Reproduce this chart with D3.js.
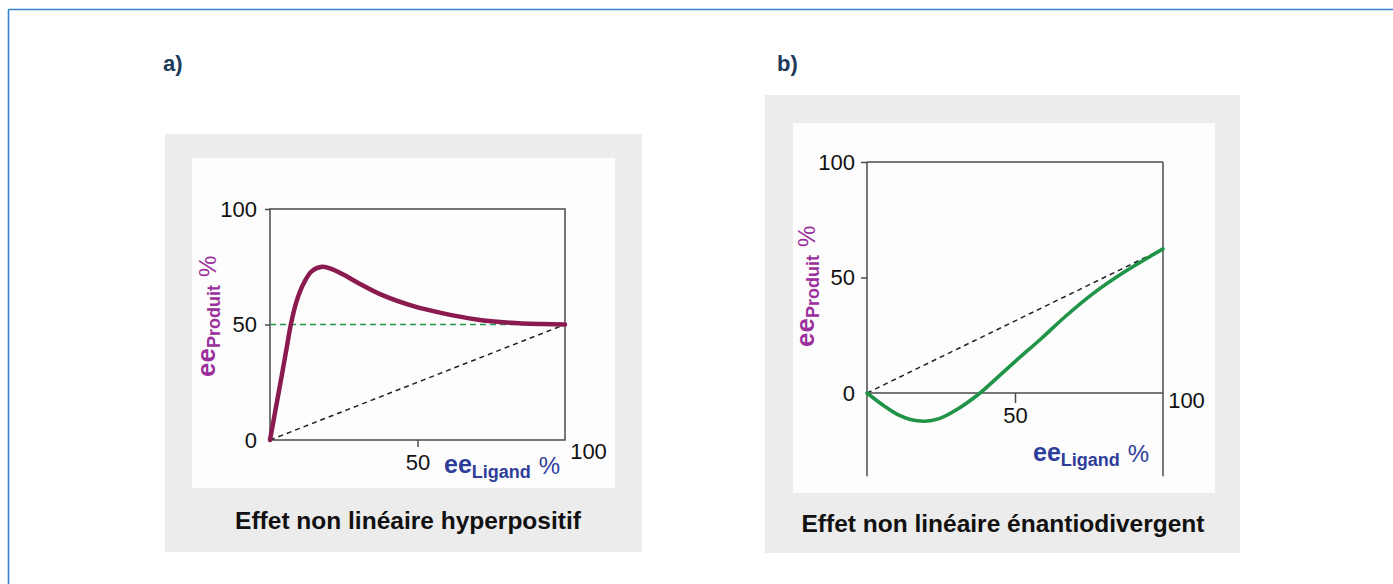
<!DOCTYPE html>
<html>
<head>
<meta charset="utf-8">
<script src="https://cdn.jsdelivr.net/npm/d3@7"></script>
<style>
  body { margin: 0; background: #fff; }
  text { font-family: "Liberation Sans", Arial, Helvetica, sans-serif; }
</style>
</head>
<body>
<svg width="1393" height="584"></svg>
<script>
// values (ee in %)
const yTicks = [0, 50, 100];
const xTicks = [50, 100];

// a) hyperpositive effect
const hyperX = [0, 2, 4, 5.6, 7.1, 9, 11.3, 14.1, 17.7, 21, 25, 29.9, 37.9, 49.2, 58.7, 70, 81.4, 92.6, 100];
const hyperY = [0, 14, 28, 39.5, 50.2, 60, 67.5, 73, 75, 74, 71.5, 68, 62.8, 57.7, 54.8, 52.2, 50.8, 50.2, 50];
const linearAx = [0, 100];
const linearAy = [0, 50];
const plateauA = 50;

// b) enantiodivergent effect
const divX = [0, 6.1, 10.6, 15, 19.5, 24.1, 30.8, 38.2, 44.4, 50, 59, 66.9, 75.9, 86, 100];
const divY = [0, -5.9, -9.5, -11.6, -12.2, -11.2, -6.8, 0, 7.1, 13.6, 23.7, 33, 42.6, 51.6, 62.4];
const linearBx = [0, 100];
const linearBy = [0, 62.4];

const svg = d3.select("svg");

// page frame (blue lines top + left)
svg.append("line").attr("x1", 8.5).attr("x2", 1393).attr("y1", 9.5).attr("y2", 9.5)
  .attr("stroke", "#3a7fd0").attr("stroke-width", 1.6);
svg.append("line").attr("x1", 8.5).attr("x2", 8.5).attr("y1", 9.5).attr("y2", 584)
  .attr("stroke", "#3a7fd0").attr("stroke-width", 1.6);

const purple = "#9b2f9b", blue = "#2e3d9a";

function drawPanel(p) {
  const g = svg.append("g");
  g.append("text").attr("x", p.tagX).attr("y", 71).text(p.tag)
    .attr("font-size", 22).attr("font-weight", "bold").attr("fill", "#1d3b5a");
  g.append("rect").attr("x", p.box[0]).attr("y", p.box[1]).attr("width", p.box[2]).attr("height", p.box[3])
    .attr("fill", "#ececec");
  g.append("rect").attr("x", p.inner[0]).attr("y", p.inner[1]).attr("width", p.inner[2]).attr("height", p.inner[3])
    .attr("fill", "#fdfdfd");

  const x = d3.scaleLinear().domain([0, 100]).range(p.xr);
  const y = d3.scaleLinear().domain([0, 100]).range(p.yr);

  // frame
  const fr = g.append("g").attr("stroke", "#4a4a4a").attr("stroke-width", 1.5).attr("fill", "none");
  if (p.closed) {
    fr.append("rect").attr("x", x(0)).attr("y", y(100)).attr("width", x(100) - x(0)).attr("height", y(0) - y(100));
  } else {
    fr.append("line").attr("x1", x(0)).attr("x2", x(100)).attr("y1", y(100)).attr("y2", y(100));
    fr.append("line").attr("x1", x(0)).attr("x2", x(0)).attr("y1", y(100)).attr("y2", y(p.yMin));
    fr.append("line").attr("x1", x(100)).attr("x2", x(100)).attr("y1", y(100)).attr("y2", y(p.yMin));
    fr.append("line").attr("x1", x(0)).attr("x2", x(100)).attr("y1", y(0)).attr("y2", y(0));
  }

  // axes
  const ya = g.append("g").attr("transform", `translate(${x(0)},0)`)
    .call(d3.axisLeft(y).tickValues(yTicks).tickSize(p.ytick).tickPadding(p.ypad));
  const xa = g.append("g").attr("transform", `translate(0,${y(0)})`)
    .call(d3.axisBottom(x).tickValues(xTicks).tickSize(p.xtick).tickPadding(p.xpad));
  [ya, xa].forEach(a => {
    a.select(".domain").remove();
    a.selectAll("line").attr("stroke", "#4a4a4a").attr("stroke-width", 1.5);
    a.selectAll("text").attr("font-size", 22).attr("fill", "#111").attr("font-family", null);
  });
  ya.selectAll(".tick").filter(d => d === 0).select("line").remove();
  const t100 = xa.selectAll(".tick").filter(d => d === 100);
  t100.select("line").remove();
  t100.select("text").attr("x", 23).attr("y", p.x100dy);

  // reference lines
  const line = d3.line().x(d => x(d[0])).y(d => y(d[1]));
  if (p.plateau != null) {
    g.append("path").attr("d", line([[0, p.plateau], [100, p.plateau]]))
      .attr("stroke", "#1f9a4c").attr("stroke-width", 1.6).attr("stroke-dasharray", "6,4").attr("fill", "none");
  }
  g.append("path").attr("d", line(p.refX.map((v, i) => [v, p.refY[i]])))
    .attr("stroke", "#222").attr("stroke-width", 1.5).attr("stroke-dasharray", "5,4").attr("fill", "none");

  // curve
  g.append("path")
    .attr("d", line.curve(d3.curveCatmullRom.alpha(0.5))(p.cx.map((v, i) => [v, p.cy[i]])))
    .attr("stroke", p.color).attr("stroke-width", p.cw).attr("fill", "none")
    .attr("stroke-linecap", "round").attr("stroke-linejoin", "round");

  // axis titles
  const xt = g.append("text").attr("x", p.xtPos[0]).attr("y", p.xtPos[1]).attr("fill", blue);
  xt.append("tspan").text("ee").attr("font-size", 25).attr("font-weight", "bold");
  xt.append("tspan").text("Ligand").attr("font-size", 18).attr("font-weight", "bold").attr("dy", 5);
  xt.append("tspan").text("%").attr("font-size", 24).attr("dy", -4).attr("dx", 8);

  const yt = g.append("text").attr("transform", `translate(${p.ytPos[0]},${p.ytPos[1]}) rotate(-90)`).attr("fill", purple);
  yt.append("tspan").text("ee").attr("font-size", 26).attr("font-weight", "bold");
  yt.append("tspan").text("Produit").attr("font-size", 18).attr("font-weight", "bold").attr("dy", 5);
  yt.append("tspan").text("%").attr("font-size", 24).attr("dy", -4).attr("dx", 8);

  g.append("text").attr("x", p.titleX).attr("y", p.titleY).attr("text-anchor", "middle")
    .attr("font-size", 24.5).attr("font-weight", "bold").attr("fill", "#111").text(p.title);
}

drawPanel({
  tag: "a)", tagX: 163,
  box: [165, 134, 477, 418], inner: [192, 158, 423, 330],
  xr: [270, 565], yr: [440, 209], closed: true, yMin: 0,
  ytick: 5, ypad: 8, xtick: 7, xpad: 7, x100dy: 3,
  plateau: plateauA, refX: linearAx, refY: linearAy,
  cx: hyperX, cy: hyperY, color: "#8b1a50", cw: 4.5,
  xtPos: [444, 473], ytPos: [215, 377],
  title: "Effet non linéaire hyperpositif", titleX: 408, titleY: 529
});

drawPanel({
  tag: "b)", tagX: 777,
  box: [765, 95, 475, 458], inner: [793, 123, 422, 370],
  xr: [867, 1163], yr: [393, 162], closed: false, yMin: -36,
  ytick: 6, ypad: 6, xtick: 10, xpad: 4, x100dy: -1,
  plateau: null, refX: linearBx, refY: linearBy,
  cx: divX, cy: divY, color: "#1f9447", cw: 3.6,
  xtPos: [1033, 461], ytPos: [814, 347],
  title: "Effet non linéaire énantiodivergent", titleX: 1003, titleY: 532
});
</script>
</body>
</html>
